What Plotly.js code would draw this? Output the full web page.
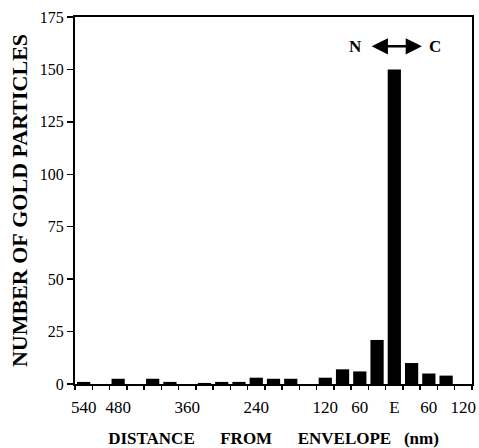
<!DOCTYPE html>
<html>
<head>
<meta charset="utf-8">
<script src="https://cdn.plot.ly/plotly-3.0.1.min.js"></script>
<style>html,body{margin:0;padding:0;background:#fff;}#chart{width:479px;height:448px;}</style>
</head>
<body>
<div id="chart"></div>
<script>
// Bin centers (nm from envelope; negative = nuclear side N, positive = cytoplasmic side C)
const binCenters = [-540,-510,-480,-450,-420,-390,-360,-330,-300,-270,-240,-210,-180,-150,-120,-90,-60,-30,0,30,60,90,120];
const particleCounts = [1,0,2.5,0,2.5,1,0,0.5,1,1,3,2.5,2.5,0,3,7,6,21,150,10,5,4,0];
const tickPositions = [-540,-480,-360,-240,-120,-60,0,60,120];
const tickLabels = ['540','480','360','240','120','60','E','60','120'];
const binEdges = [-555,-525,-495,-465,-435,-405,-375,-345,-315,-285,-255,-225,-195,-165,-135,-105,-75,-45,-15,15,45,75,105,135];
const yTicks = [0,25,50,75,100,125,150,175];

const serif = '"Liberation Serif", "Times New Roman", Times, serif';
const nb = '\u00A0';

const trace = {
  type: 'bar',
  x: binCenters,
  y: particleCounts,
  width: 23,
  marker: {color: '#000', line: {width: 0}},
  hoverinfo: 'x+y'
};
// invisible helper trace so the label axis is drawn
const labelTrace = {
  type: 'scatter', mode: 'markers', x: [tickPositions[0]], y: [0], xaxis: 'x2', yaxis: 'y',
  marker: {opacity: 0}, hoverinfo: 'skip', showlegend: false
};

const layout = {
  width: 479, height: 448,
  margin: {l: 75, r: 7, t: 17, b: 64},
  paper_bgcolor: '#fff', plot_bgcolor: '#fff',
  showlegend: false,
  font: {family: serif, color: '#000'},
  xaxis: {
    range: [-555, 135],
    tickmode: 'array', tickvals: binEdges, ticktext: binEdges.map(() => ''),
    ticks: 'outside', ticklen: 4, tickwidth: 1.5, tickcolor: '#000',
    showgrid: false, zeroline: false,
    showline: true, linecolor: '#000', linewidth: 2, mirror: true,
    title: {text: '<b>DISTANCE' + nb.repeat(6) + 'FROM' + nb.repeat(6) + 'ENVELOPE' + nb.repeat(3) + '(nm)</b>', font: {size: 17, family: serif, color: '#000'}, standoff: 41},
    fixedrange: true
  },
  xaxis2: {
    overlaying: 'x', anchor: 'y', side: 'bottom',
    range: [-555, 135],
    tickmode: 'array', tickvals: tickPositions, ticktext: tickLabels,
    ticks: 'outside', ticklen: 8, tickcolor: 'rgba(0,0,0,0)',
    tickfont: {size: 17, family: serif, color: '#000'},
    showgrid: false, zeroline: false, showline: false,
    fixedrange: true
  },
  yaxis: {
    range: [0, 175],
    tickmode: 'array', tickvals: yTicks,
    ticks: 'outside', ticklen: 6, tickwidth: 1.5, tickcolor: '#000',
    tickfont: {size: 16, family: serif, color: '#000'},
    showgrid: false, zeroline: false,
    showline: true, linecolor: '#000', linewidth: 2, mirror: true,
    title: {text: '<b>NUMBER' + nb + 'OF' + nb + 'GOLD' + nb + 'PARTICLES</b>', font: {size: 22, family: serif, color: '#000'}, standoff: 6},
    fixedrange: true
  },
  annotations: [
    {x: -68, y: 161, xref: 'x', yref: 'y', text: '<b>N</b>', showarrow: false, font: {size: 17, family: serif, color: '#000'}},
    {x: 71, y: 161, xref: 'x', yref: 'y', text: '<b>C</b>', showarrow: false, font: {size: 17, family: serif, color: '#000'}},
    {x: 48, y: 161, ax: -42, ay: 161, xref: 'x', yref: 'y', axref: 'x', ayref: 'y', text: '', showarrow: true,
     arrowhead: 2, startarrowhead: 2, arrowside: 'end+start', arrowsize: 1.3, startarrowsize: 1.3, arrowwidth: 2.5, arrowcolor: '#000'}
  ]
};

Plotly.newPlot('chart', [trace, labelTrace], layout, {displayModeBar: false, staticPlot: true});
</script>
</body>
</html>
